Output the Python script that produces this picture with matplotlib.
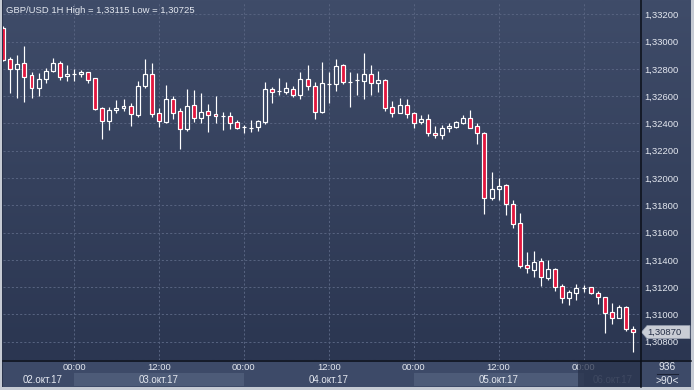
import matplotlib
matplotlib.use("Agg")
import matplotlib.pyplot as plt
import numpy as np
import pandas as pd
from matplotlib.patches import Rectangle, Polygon

# ---------------- data (GBP/USD, 1H candles) ----------------
times = pd.date_range("2017-10-02 14:00", periods=90, freq="h")

opens = [1.33097, 1.32870, 1.32801, 1.32843, 1.32753, 1.32657, 1.32728, 1.32787, 1.32843, 1.32745,
         1.32762, 1.32760, 1.32775, 1.32731, 1.32513, 1.32420, 1.32496, 1.32511, 1.32526, 1.32462,
         1.32677, 1.32762, 1.32476, 1.32413, 1.32581, 1.32493, 1.32361, 1.32533, 1.32438, 1.32489,
         1.32469, 1.32452, 1.32452, 1.32410, 1.32372, 1.32369, 1.32376, 1.32413, 1.32650, 1.32635,
         1.32633, 1.32655, 1.32611, 1.32726, 1.32672, 1.32486, 1.32689, 1.32687, 1.32826, 1.32701,
         1.32716, 1.32713, 1.32760, 1.32694, 1.32716, 1.32518, 1.32474, 1.32535, 1.32476, 1.32408,
         1.32430, 1.32330, 1.32315, 1.32364, 1.32376, 1.32405, 1.32438, 1.32379, 1.32330, 1.31851,
         1.31917, 1.31949, 1.31807, 1.31668, 1.31360, 1.31325, 1.31391, 1.31269, 1.31331, 1.31208,
         1.31118, 1.31159, 1.31191, 1.31199, 1.31155, 1.31125, 1.31015, 1.30976, 1.31054, 1.30896]
highs = [1.33115, 1.32889, 1.32902, 1.32970, 1.32779, 1.32767, 1.32809, 1.32880, 1.32858, 1.32828,
         1.32797, 1.32792, 1.32779, 1.32735, 1.32523, 1.32518, 1.32572, 1.32579, 1.32548, 1.32711,
         1.32870, 1.32845, 1.32511, 1.32682, 1.32601, 1.32511, 1.32652, 1.32645, 1.32621, 1.32542,
         1.32601, 1.32484, 1.32484, 1.32425, 1.32388, 1.32425, 1.32425, 1.32704, 1.32669, 1.32733,
         1.32704, 1.32677, 1.32777, 1.32828, 1.32701, 1.32850, 1.32779, 1.32872, 1.32836, 1.32777,
         1.32772, 1.32916, 1.32831, 1.32784, 1.32728, 1.32564, 1.32586, 1.32579, 1.32482, 1.32462,
         1.32471, 1.32381, 1.32388, 1.32401, 1.32420, 1.32462, 1.32498, 1.32401, 1.32335, 1.32044,
         1.32000, 1.31956, 1.31839, 1.31745, 1.31460, 1.31465, 1.31416, 1.31399, 1.31338, 1.31223,
         1.31179, 1.31223, 1.31215, 1.31203, 1.31174, 1.31130, 1.31086, 1.31069, 1.31061, 1.30913]
lows = [1.32858, 1.32625, 1.32589, 1.32559, 1.32589, 1.32601, 1.32699, 1.32775, 1.32718, 1.32711,
        1.32711, 1.32743, 1.32699, 1.32498, 1.32288, 1.32352, 1.32479, 1.32493, 1.32381, 1.32449,
        1.32662, 1.32449, 1.32372, 1.32401, 1.32430, 1.32212, 1.32342, 1.32413, 1.32401, 1.32339,
        1.32401, 1.32352, 1.32357, 1.32357, 1.32332, 1.32339, 1.32347, 1.32396, 1.32548, 1.32608,
        1.32616, 1.32592, 1.32579, 1.32645, 1.32435, 1.32479, 1.32548, 1.32640, 1.32687, 1.32523,
        1.32608, 1.32579, 1.32606, 1.32633, 1.32493, 1.32449, 1.32474, 1.32442, 1.32369, 1.32396,
        1.32308, 1.32295, 1.32284, 1.32339, 1.32369, 1.32394, 1.32369, 1.32247, 1.31734, 1.31835,
        1.31835, 1.31729, 1.31635, 1.31342, 1.31306, 1.31276, 1.31208, 1.31252, 1.31174, 1.31086,
        1.31071, 1.31105, 1.31166, 1.31147, 1.31076, 1.30866, 1.30929, 1.30971, 1.30880, 1.30725]
closes = [1.32865, 1.32797, 1.32836, 1.32743, 1.32657, 1.32723, 1.32782, 1.32841, 1.32743, 1.32762,
          1.32762, 1.32775, 1.32721, 1.32508, 1.32416, 1.32498, 1.32511, 1.32526, 1.32467, 1.32672,
          1.32762, 1.32471, 1.32416, 1.32577, 1.32479, 1.32361, 1.32528, 1.32438, 1.32486, 1.32464,
          1.32452, 1.32452, 1.32405, 1.32369, 1.32372, 1.32369, 1.32418, 1.32650, 1.32633, 1.32635,
          1.32657, 1.32611, 1.32726, 1.32672, 1.32482, 1.32694, 1.32689, 1.32821, 1.32701, 1.32706,
          1.32716, 1.32760, 1.32694, 1.32716, 1.32511, 1.32474, 1.32535, 1.32467, 1.32401, 1.32432,
          1.32328, 1.32315, 1.32364, 1.32381, 1.32410, 1.32438, 1.32369, 1.32328, 1.31851, 1.31917,
          1.31939, 1.31807, 1.31660, 1.31357, 1.31338, 1.31382, 1.31272, 1.31333, 1.31199, 1.31118,
          1.31162, 1.31191, 1.31191, 1.31155, 1.31125, 1.31012, 1.30971, 1.31054, 1.30891, 1.30870]

title = "GBP/USD 1H High = 1,33115 Low = 1,30725"
last_price = 1.30870
y_ticks = [1.308, 1.310, 1.312, 1.314, 1.316, 1.318, 1.320, 1.322, 1.324, 1.326, 1.328, 1.330, 1.332]
x_tick_labels = ["00:00", "12:00", "00:00", "12:00", "00:00", "12:00", "00:00"]
date_labels = ["02.окт.17", "03.окт.17", "04.окт.17", "05.окт.17", "06.окт.17"]

# ---------------- style ----------------
W, H = 694, 390
FONT = ["Liberation Sans", "DejaVu Sans"]
plt.rcParams["font.family"] = FONT
TXT = "#E4E8F0"
RED = "#E3173E"
GRID = "#56627F"
BG_TOP = np.array([63, 76, 105]) / 255
BG_BOT = np.array([43, 54, 81]) / 255

fig = plt.figure(figsize=(W / 100, H / 100), dpi=100)
fig.patch.set_facecolor("#C6CBD4")


def px_axes(x0, y0, x1, y1, z):
    a = fig.add_axes([x0 / W, 1 - y1 / H, (x1 - x0) / W, (y1 - y0) / H], zorder=z)
    return a


# background layer in pixel coords
bg = px_axes(0, 0, W, H, 0)
bg.set_xlim(0, W)
bg.set_ylim(H, 0)
bg.axis("off")
grad = np.linspace(0, 1, 256)[:, None, None]
img = BG_TOP[None, None, :] * (1 - grad) + BG_BOT[None, None, :] * grad
bg.imshow(img, extent=(3, 691, 360, 0), aspect="auto", interpolation="bilinear", zorder=0)
# bottom panel
bg.add_patch(Rectangle((3, 360), 688, 27, facecolor="#3D4A68", edgecolor="none", zorder=1))
# left dark edge
bg.add_patch(Rectangle((2, 0), 1, 387, facecolor="#2A344C", edgecolor="none", zorder=1))

# ---------------- main chart ----------------
hours = np.array([(t - pd.Timestamp("2017-10-02 00:00")).total_seconds() / 3600 for t in times])
ax = px_axes(3, 2, 641, 360, 1)
ax.patch.set_alpha(0)
x_left = hours[0] - 0.028
x_right = hours[0] + 90.12
ax.set_xlim(x_left, x_right)
ax.set_ylim(1.306655, 1.332902)
for s in ax.spines.values():
    s.set_visible(False)

# shaded date bands (in bottom panel, data x)
band_tr = ax.get_xaxis_transform()
for a0, a1 in [(24, 48), (72, 96)]:
    ax.add_patch(Rectangle((a0, -0.0375), a1 - a0, -0.036, transform=band_tr, facecolor="#4D5B78",
                           edgecolor="none", clip_on=False, zorder=0))

# grid
ax.set_yticks(y_ticks)
ax.set_xticks([24, 36, 48, 60, 72, 84, 96])
ax.grid(True, color=GRID, linestyle=(0, (2.0, 2.0)), linewidth=0.75)
ax.set_axisbelow(True)

# candles
o = np.array(opens); h = np.array(highs); l = np.array(lows); c = np.array(closes)
top = np.maximum(o, c)
bot = np.minimum(o, c)
ax.vlines(hours, top, h, color="white", linewidth=0.85, zorder=3)
ax.vlines(hours, l, bot, color="white", linewidth=0.85, zorder=3)
bear = c < o
faces = [RED if b else "none" for b in bear]
ax.bar(hours, np.maximum(top - bot, 0.000004), bottom=bot, width=0.56, color=faces,
       edgecolor="white", linewidth=0.85, zorder=4)

# axis labels
ax.yaxis.tick_right()
ax.set_yticklabels([f"{v:.5f}".replace(".", ",") for v in y_ticks])
ax.tick_params(axis="y", length=0, pad=2.4, labelsize=6.8, labelcolor=TXT)
ax.set_xticklabels(x_tick_labels)
ax.tick_params(axis="x", length=0, pad=2.2, labelsize=6.8, labelcolor=TXT)

date_x = [hours[0] + 5.62, 36, 60, 84, hours[0] + 86.17]
for i, (dx, lab) in enumerate(zip(date_x, date_labels)):
    ax.text(dx, -0.056, lab, transform=band_tr, ha="center", va="center", fontsize=7,
            color="#7D889E" if i == 4 else TXT, clip_on=False, zorder=6)

ax.text(0.004, 0.975, title, transform=ax.transAxes, ha="left", va="center", fontsize=6.8,
        color=TXT, zorder=6)

# ---------------- overlay in pixel coords ----------------
ov = px_axes(0, 0, W, H, 3)
ov.patch.set_alpha(0)
ov.set_xlim(0, W)
ov.set_ylim(H, 0)
ov.axis("off")
# dark box over the current day in the time panel
ov.add_patch(Rectangle((578, 361), 63, 26, facecolor="#27314A", alpha=0.72, edgecolor="none"))
ov.plot([641.5, 641.5], [0, 387], color="#0B0F18", linewidth=1.1)
ov.plot([3, 691], [360.5, 360.5], color="#0B0F18", linewidth=1.1)
# last price tag
ypx = 14.3 + (1.332 - last_price) / 0.002 * 27.28
ov.add_patch(Polygon([(641.5, ypx), (647, ypx - 6.5), (690, ypx - 6.5), (690, ypx + 6.5), (647, ypx + 6.5)],
                     closed=True, facecolor="#C9CDD5", edgecolor="#9BA3B2", linewidth=0.5))
ov.text(647.5, ypx + 0.3, f"{last_price:.5f}".replace(".", ","), ha="left", va="center",
        fontsize=6.8, color="#263047")
# bars counter
ov.text(667, 367, "936", ha="center", va="center", fontsize=7.4, color=TXT)
ov.plot([657, 678], [374, 374], color="#1C2336", linewidth=0.8)
ov.text(667, 381, ">90<", ha="center", va="center", fontsize=7.4, color=TXT)

fig.savefig("out.png", dpi=100, facecolor=fig.get_facecolor())
